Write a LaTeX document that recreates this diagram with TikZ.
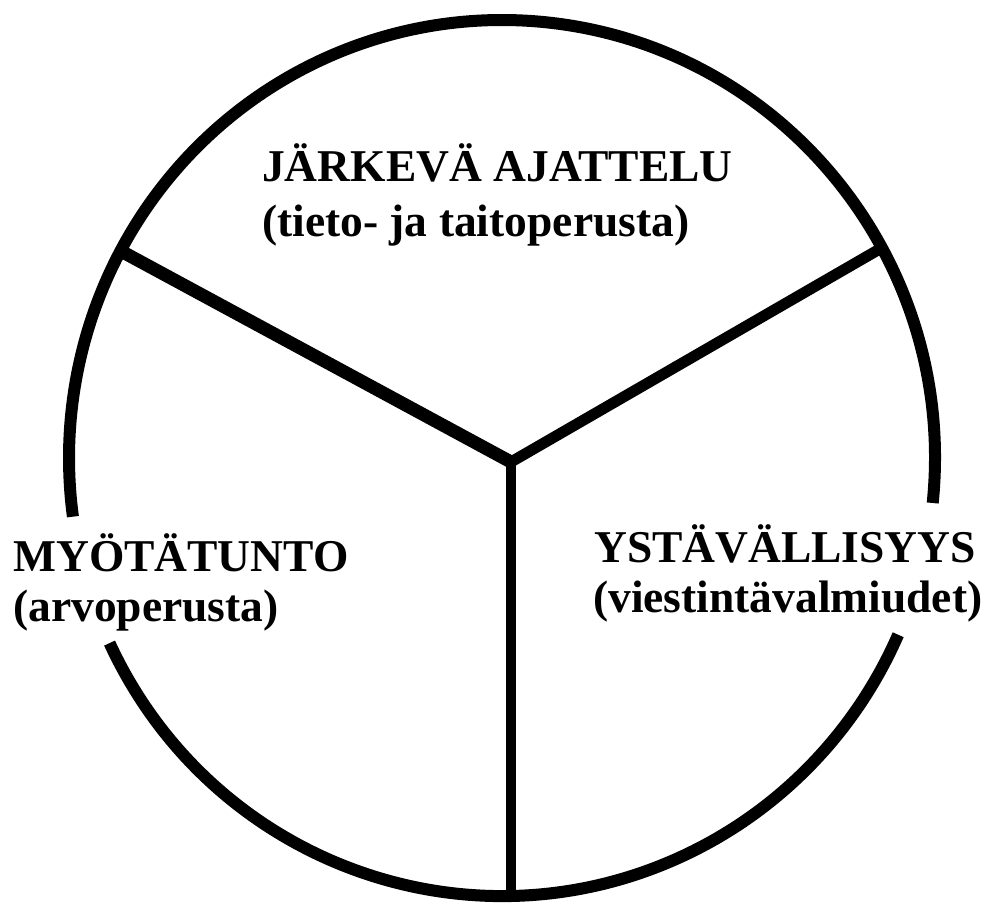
\documentclass[tikz,border=0pt]{standalone}
\usepackage{fontspec}
\setmainfont{Liberation Serif}
\usetikzlibrary{calc}
\begin{document}
\begin{tikzpicture}[x=1pt,y=1pt,
  ring/.style={line width=12pt,line cap=butt},
  spoke/.style={line width=#1,line cap=butt},
  lbl/.style={anchor=base west,inner sep=0pt,font=\bfseries\fontsize{45.5}{50}\selectfont}]
\useasboundingbox[fill=white] (0,0) rectangle (991,913);
% ring in two pieces, broken where side labels are
\coordinate (o) at (502,455);
\draw[ring] ($(o)+(205:433 and 438)$) arc[start angle=205,end angle=336.2,x radius=433,y radius=438];
\draw[ring] ($(o)+(-5.9:433 and 438)$) arc[start angle=-5.9,end angle=187.7,x radius=433,y radius=438];
% spokes
\coordinate (c) at (511,451);
\coordinate (l) at (119,663);
\coordinate (r) at (878,663);
\coordinate (b) at (511,16);
\draw[spoke=13pt] (l) -- (c);
\draw[spoke=11pt] (r) -- (c);
\draw[spoke=10pt] (c) -- (b);
\fill (c) circle (5.5);
% labels
\node[lbl] (t1) at (262,731) {JÄRKEVÄ AJATTELU};
\node[lbl] (t2) at (262,676) {(tieto- ja taitoperusta)};
\node[lbl] (m1) at (13,341) {MYÖTÄTUNTO};
\node[lbl] (m2) at (13,291) {(arvoperusta)};
\node[lbl] (y1) at (594,350) {YSTÄVÄLLISYYS};
\node[lbl] (y2) at (593,300) {(viestintävalmiudet)};
\end{tikzpicture}
\end{document}
